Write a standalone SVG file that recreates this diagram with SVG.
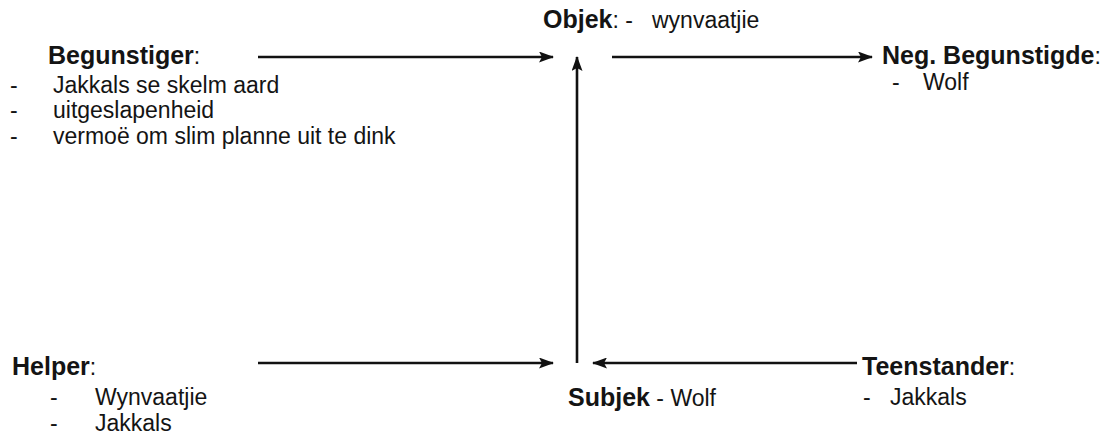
<svg xmlns="http://www.w3.org/2000/svg" width="1111" height="435" viewBox="0 0 1111 435">
<style>
text{font-family:"Liberation Sans",Arial,sans-serif;fill:#141414}
.h{font-size:25px;font-weight:bold}
.r{font-size:23px}
.c{font-size:23px;font-weight:normal}
.ln{stroke:#111;stroke-width:2.6;fill:none}
</style>
<defs>
<marker id="ah" viewBox="0 0 15 11" refX="14" refY="5.5" markerWidth="15" markerHeight="11" markerUnits="userSpaceOnUse" orient="auto">
<path d="M0,0 L15,5.5 L0,11 L3,5.5 Z" fill="#111"/>
</marker>
</defs>
<rect width="1111" height="435" fill="#fff"/>
<g id="connectors">
<line class="ln" x1="258" y1="57" x2="553" y2="57" marker-end="url(#ah)"/>
<line class="ln" x1="612" y1="57" x2="872" y2="57" marker-end="url(#ah)"/>
<line class="ln" x1="577" y1="363" x2="577" y2="57" marker-end="url(#ah)"/>
<line class="ln" x1="258" y1="363" x2="553" y2="363" marker-end="url(#ah)"/>
<line class="ln" x1="857" y1="363" x2="593" y2="363" marker-end="url(#ah)"/>
</g>
<g id="begunstiger">
<text x="48" y="64" class="h">Begunstiger<tspan class="c">:</tspan></text>
<text x="10" y="93" class="r">-</text><text x="53" y="93" class="r">Jakkals se skelm aard</text>
<text x="10" y="118" class="r">-</text><text x="53" y="118" class="r">uitgeslapenheid</text>
<text x="10" y="144" class="r">-</text><text x="53" y="144" class="r">vermoë om slim planne uit te dink</text>
</g>
<g id="objek">
<text x="543" y="28" class="h">Objek<tspan class="c">: -</tspan></text>
<text x="652" y="28" class="r">wynvaatjie</text>
</g>
<g id="neg-begunstigde">
<text x="882" y="64" class="h">Neg. Begunstigde<tspan class="c">:</tspan></text>
<text x="892" y="90" class="r">-</text><text x="923" y="90" class="r">Wolf</text>
</g>
<g id="helper">
<text x="12" y="375" class="h">Helper<tspan class="c">:</tspan></text>
<text x="50" y="405" class="r">-</text><text x="95" y="405" class="r">Wynvaatjie</text>
<text x="50" y="431" class="r">-</text><text x="95" y="431" class="r">Jakkals</text>
</g>
<g id="subjek">
<text x="568" y="406" class="h">Subjek<tspan class="c"> - Wolf</tspan></text>
</g>
<g id="teenstander">
<text x="862" y="375" class="h">Teenstander<tspan class="c">:</tspan></text>
<text x="863" y="405" class="r">-</text><text x="890" y="405" class="r">Jakkals</text>
</g>
</svg>
